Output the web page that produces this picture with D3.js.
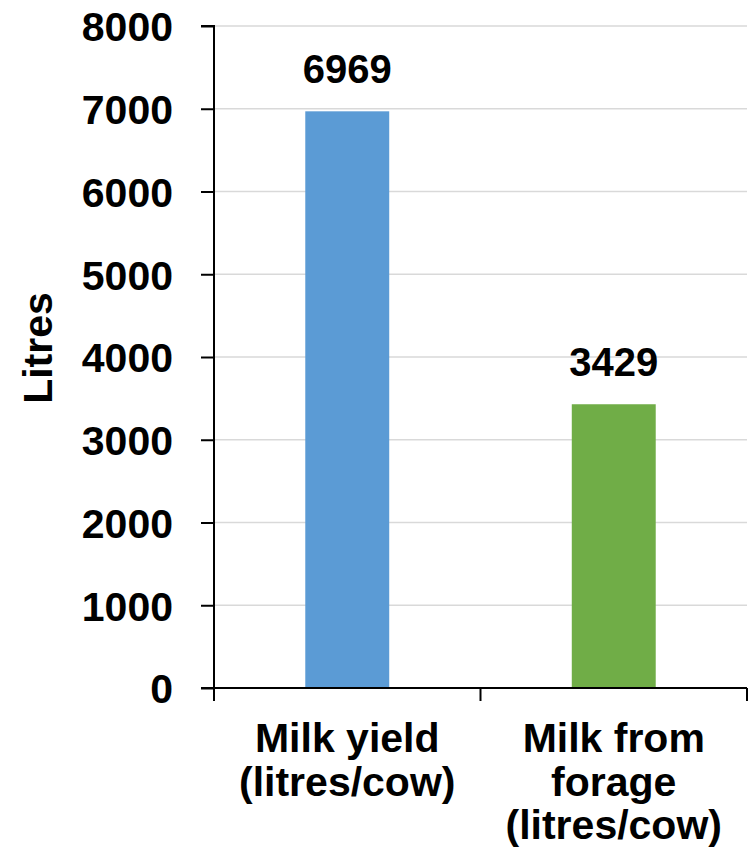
<!DOCTYPE html>
<html>
<head>
<meta charset="utf-8">
<script src="https://cdn.jsdelivr.net/npm/d3@7"></script>
<style>
  html, body { margin: 0; padding: 0; background: #fff; }
  svg text { font-family: "Liberation Sans", Arial, sans-serif; font-weight: bold; fill: #000; }
</style>
</head>
<body>
<svg id="chart" width="748" height="859"></svg>
<script>
// Categories (multi-line labels) and their values
const categories = ["Milk yield (litres/cow)", "Milk from forage (litres/cow)"];
const categoryLines = [["Milk yield", "(litres/cow)"], ["Milk from", "forage", "(litres/cow)"]];
const values = [6969, 3429];
const barColors = ["#5B9BD5", "#70AD47"];
const yTicks = [0, 1000, 2000, 3000, 4000, 5000, 6000, 7000, 8000];
const yTitle = "Litres";

const svg = d3.select("#chart");
const plotLeft = 214, plotRight = 747, plotTop = 26, plotBottom = 688;
const axisFont = 41, valueFont = 40;

const y = d3.scaleLinear().domain([0, 8000]).range([plotBottom, plotTop]);
const xOuter = d3.scaleBand().domain(categories).range([plotLeft, plotRight]).padding(0);
const x = d3.scaleBand().domain(categories).range([plotLeft, plotRight])
  .paddingInner(0.685).paddingOuter(0.3425);

// Horizontal gridlines
svg.append("g").selectAll("line")
  .data(yTicks.filter(d => d > 0))
  .join("line")
  .attr("x1", plotLeft).attr("x2", plotRight)
  .attr("y1", d => y(d)).attr("y2", d => y(d))
  .attr("stroke", "#d9d9d9").attr("stroke-width", 1.5);

// Bars
svg.append("g").selectAll("rect")
  .data(values)
  .join("rect")
  .attr("x", (d, i) => x(categories[i]))
  .attr("width", x.bandwidth())
  .attr("y", d => y(d))
  .attr("height", d => y(0) - y(d))
  .attr("fill", (d, i) => barColors[i]);

// Value labels
svg.append("g").selectAll("text")
  .data(values)
  .join("text")
  .attr("x", (d, i) => x(categories[i]) + x.bandwidth() / 2)
  .attr("y", d => y(d) - 28)
  .attr("text-anchor", "middle")
  .style("font-size", valueFont + "px")
  .text(d => d);

// Y axis
const yAxis = d3.axisLeft(y).tickValues(yTicks).tickSize(13).tickPadding(28).tickFormat(d3.format("d"));
const gy = svg.append("g").attr("transform", `translate(${plotLeft},0)`).call(yAxis);
gy.select(".domain").attr("stroke", "#000").attr("stroke-width", 2)
  .attr("d", `M-13,${plotTop}H0V${plotBottom}`);
gy.selectAll(".tick line").attr("stroke", "#000").attr("stroke-width", 2);
gy.selectAll(".tick text")
  .style("font-size", axisFont + "px")
  .style("font-family", '"Liberation Sans", Arial, sans-serif')
  .style("font-weight", "bold")
  .attr("fill", "#000")
  .attr("dy", "0.36em");

// X axis with ticks at category boundaries
const gx = svg.append("g").attr("transform", `translate(0,${plotBottom})`);
gx.append("line").attr("x1", plotLeft - 13).attr("x2", plotRight).attr("y1", 0).attr("y2", 0)
  .attr("stroke", "#000").attr("stroke-width", 2);
const boundaries = categories.map(c => xOuter(c)).concat([plotRight]);
gx.selectAll("line.bt").data(boundaries).join("line").attr("class", "bt")
  .attr("x1", d => d).attr("x2", d => d).attr("y1", 0).attr("y2", 13)
  .attr("stroke", "#000").attr("stroke-width", 2);

// Category labels
const lineHeight = 43.5;
categories.forEach((c, i) => {
  const cx = xOuter(c) + xOuter.bandwidth() / 2;
  const t = gx.append("text").attr("text-anchor", "middle").style("font-size", axisFont + "px");
  categoryLines[i].forEach((ln, j) => {
    t.append("tspan").attr("x", cx).attr("y", 64 + j * lineHeight).text(ln);
  });
});

// Y axis title
svg.append("text")
  .attr("transform", `translate(52,348) rotate(-90)`)
  .attr("text-anchor", "middle")
  .style("font-size", axisFont + "px")
  .text(yTitle);
</script>
</body>
</html>
